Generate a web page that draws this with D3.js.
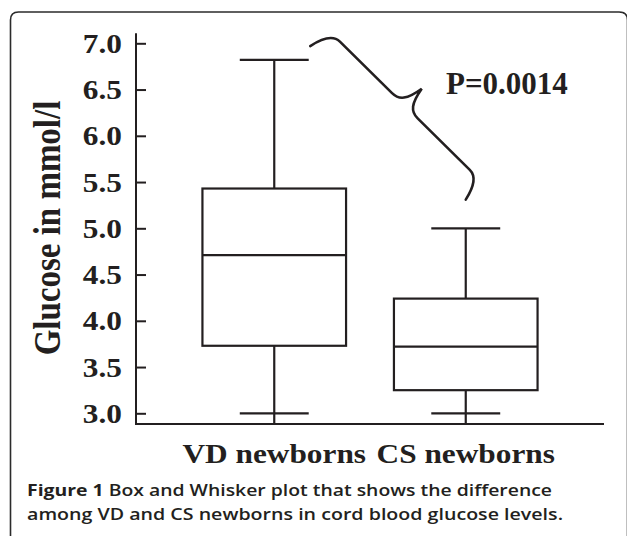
<!DOCTYPE html>
<html>
<head>
<meta charset="utf-8">
<script src="https://cdn.jsdelivr.net/npm/d3@7"></script>
<style>
  html, body { margin: 0; padding: 0; background: #fff; }
  svg { display: block; }
</style>
</head>
<body>
<svg id="chart" width="627" height="536"></svg>
<script>
// ---- data ----
const categories = ["VD newborns", "CS newborns"];
const whiskerLow = [3.0, 3.0];
const q1 = [3.73, 3.25];
const median = [4.71, 3.72];
const q3 = [5.43, 4.24];
const whiskerHigh = [6.82, 5.0];
const yTicks = [3.0, 3.5, 4.0, 4.5, 5.0, 5.5, 6.0, 6.5, 7.0];
const yLabel = "Glucose in mmol/l";
const pLabel = "P=0.0014";
const captionBold = "Figure 1";
const captionLine1 = " Box and Whisker plot that shows the difference";
const captionLine2 = "among VD and CS newborns in cord blood glucose levels.";

const ink = "#231f20";
const serif = "'Liberation Serif', 'Times New Roman', Times, serif";
const sans = "'Open Sans', 'Noto Sans', sans-serif";
const stretch = 1.16;

const svg = d3.select("#chart");

// frame
svg.append("path")
  .attr("d", "M10.5,540 L10.5,20 Q10.5,12 18.5,12 L619,12 Q627.5,12 627.5,20 L627.5,540")
  .attr("fill", "none").attr("stroke", "#2b2b2b").attr("stroke-width", 1.6);

// scales
const y = d3.scaleLinear().domain([3, 7]).range([413.3, 43.3]);
const x = d3.scaleBand().domain(categories).range([178.5, 561.5]).padding(0);
const axisX = 136;
const axisRight = 604;

const data = categories.map((c, i) => ({
  c, lo: whiskerLow[i], q1: q1[i], med: median[i], q3: q3[i], hi: whiskerHigh[i]
}));

// y axis
const yAxis = d3.axisLeft(y).tickValues(yTicks).tickFormat(d3.format(".1f"))
  .tickSizeInner(-10).tickSizeOuter(0).tickPadding(0);
const gy = svg.append("g").attr("transform", `translate(${axisX},0)`).call(yAxis);
gy.select(".domain").remove();
gy.selectAll(".tick line").attr("stroke", ink).attr("stroke-width", 2);
gy.selectAll(".tick text")
  .attr("x", 0).attr("dy", "0.34em")
  .attr("transform", `translate(-14,0) scale(${stretch},1)`)
  .attr("text-anchor", "end")
  .attr("fill", ink)
  .style("font-family", serif).style("font-weight", "bold").style("font-size", "27px");

// axis lines
const yTop = y(7.11), yBottom = y(2.885);
svg.append("line").attr("x1", axisX).attr("x2", axisX).attr("y1", yTop).attr("y2", yBottom + 1)
  .attr("stroke", ink).attr("stroke-width", 2);
svg.append("line").attr("x1", axisX).attr("x2", axisRight).attr("y1", yBottom).attr("y2", yBottom)
  .attr("stroke", ink).attr("stroke-width", 2);

// boxes
const boxW = x.bandwidth() * 0.75;
const capW = x.bandwidth() * 0.36;
const g = svg.append("g").attr("fill", "none").attr("stroke", ink).attr("stroke-width", 2.2);
data.forEach(d => {
  const cx = x(d.c) + x.bandwidth() / 2;
  // whiskers
  g.append("line").attr("x1", cx).attr("x2", cx).attr("y1", y(d.hi)).attr("y2", y(d.q3));
  g.append("line").attr("x1", cx).attr("x2", cx).attr("y1", y(d.q1)).attr("y2", yBottom);
  g.append("line").attr("x1", cx - capW / 2).attr("x2", cx + capW / 2).attr("y1", y(d.hi)).attr("y2", y(d.hi));
  g.append("line").attr("x1", cx - capW / 2).attr("x2", cx + capW / 2).attr("y1", y(d.lo)).attr("y2", y(d.lo));
  // box
  g.append("rect").attr("x", cx - boxW / 2).attr("width", boxW)
    .attr("y", y(d.q3)).attr("height", y(d.q1) - y(d.q3));
  g.append("line").attr("x1", cx - boxW / 2).attr("x2", cx + boxW / 2).attr("y1", y(d.med)).attr("y2", y(d.med));
});

// x labels
categories.forEach(c => {
  svg.append("text")
    .attr("transform", `translate(${x(c) + x.bandwidth() / 2},463) scale(${stretch},1)`)
    .attr("text-anchor", "middle").attr("fill", ink)
    .style("font-family", serif).style("font-weight", "bold").style("font-size", "27px")
    .text(c);
});

// y label
svg.append("text")
  .attr("transform", `translate(60,228) scale(${stretch},1) rotate(-90)`)
  .attr("text-anchor", "middle").attr("fill", ink)
  .style("font-family", serif).style("font-weight", "bold").style("font-size", "33px")
  .text(yLabel);

// curly brace annotation between the two upper whiskers
const xVD = x(categories[0]) + x.bandwidth() / 2;
const xCS = x(categories[1]) + x.bandwidth() / 2;
const S = [xVD + 36, y(6.97)];
const E = [xCS, y(5.31)];
const L = Math.hypot(E[0] - S[0], E[1] - S[1]);
const ang = Math.atan2(E[1] - S[1], E[0] - S[0]) * 180 / Math.PI;
const m = L / 2, h = 24, tip = 48, r = 18;
const braceD = `M0,0 C3,-14 9,-${h} ${r},-${h} L${m - r},-${h} C${m - 8},-${h} ${m - 3},-${h + 6} ${m},-${tip}` +
  ` C${m + 3},-${h + 6} ${m + 8},-${h} ${m + r},-${h} L${L - r},-${h} C${L - 9},-${h} ${L - 3},-14 ${L},0`;
svg.append("path")
  .attr("transform", `translate(${S[0]},${S[1]}) rotate(${ang})`)
  .attr("d", braceD)
  .attr("fill", "none").attr("stroke", ink).attr("stroke-width", 2.6).attr("stroke-linecap", "round");

svg.append("text")
  .attr("x", 446).attr("y", 94)
  .attr("fill", ink)
  .style("font-family", serif).style("font-weight", "bold").style("font-size", "31px")
  .text(pLabel);

// caption
const cap1 = svg.append("text").attr("x", 27).attr("y", 496)
  .attr("fill", ink).style("font-family", sans).style("font-size", "16.5px")
  .attr("textLength", 525).attr("lengthAdjust", "spacingAndGlyphs");
cap1.append("tspan").style("font-weight", "bold").text(captionBold);
cap1.append("tspan").style("font-weight", "600").text(captionLine1);
svg.append("text").attr("x", 27).attr("y", 520)
  .attr("fill", ink).style("font-family", sans).style("font-size", "16.5px").style("font-weight", "600")
  .attr("textLength", 536).attr("lengthAdjust", "spacingAndGlyphs")
  .text(captionLine2);
</script>
</body>
</html>
